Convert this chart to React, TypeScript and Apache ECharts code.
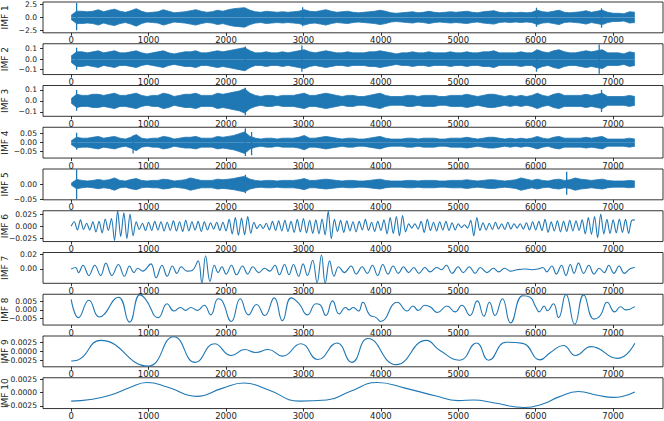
import React, { useEffect, useRef } from "react";
import * as echarts from "echarts";

// ---------- data ----------
// IMF 1-5: high-frequency bands, envelope amplitude read every STEP samples
const STEP = 70;
const imf1Amp = [
  0.4, 1.2, 1.2, 1.1, 1.2, 1.5, 1.1, 1.4, 1.6, 1.2, 1.0, 1.3, 1.7, 1.2, 0.9,
  1.0, 1.1, 1.5, 1.2, 0.9, 1.0, 1.1, 1.3, 1.5, 1.2, 1.0, 1.1, 1.4, 1.2, 1.5,
  1.7, 1.8, 1.9, 1.4, 1.1, 1.0, 1.2, 1.1, 1.0, 1.1, 1.0, 1.1, 1.2, 1.5, 1.2,
  1.1, 1.3, 1.5, 1.2, 1.0, 1.1, 1.2, 1.0, 0.9, 1.0, 1.1, 1.2, 1.4, 1.2, 0.9,
  0.8, 0.9, 1.0, 1.1, 0.9, 1.0, 1.2, 1.0, 0.9, 1.0, 1.1, 1.0, 1.1, 1.2, 1.0,
  0.9, 1.1, 1.2, 1.3, 1.0, 0.9, 1.0, 0.9, 1.0, 0.9, 1.0, 1.4, 1.1, 1.0, 1.2,
  1.4, 1.0, 0.9, 1.0, 1.1, 1.3, 1.0, 1.2, 1.4, 1.0, 0.8, 0.8, 0.7, 1.1, 1.0,
];
const imf1Spikes = [[70, 2.8, -2.5], [2990, 2.0, -1.7], [6010, 1.9, -1.8], [6850, 1.8, -2.0]];

const imf2Amp = [
  0.03, 0.07, 0.07, 0.06, 0.07, 0.08, 0.06, 0.07, 0.08, 0.06, 0.06, 0.07, 0.08, 0.06, 0.05,
  0.06, 0.07, 0.08, 0.06, 0.05, 0.06, 0.07, 0.07, 0.08, 0.06, 0.06, 0.07, 0.08, 0.07, 0.08,
  0.09, 0.10, 0.11, 0.08, 0.06, 0.06, 0.07, 0.06, 0.06, 0.07, 0.06, 0.07, 0.08, 0.09, 0.07,
  0.06, 0.07, 0.08, 0.07, 0.06, 0.06, 0.07, 0.06, 0.06, 0.06, 0.07, 0.07, 0.08, 0.07, 0.06,
  0.05, 0.06, 0.06, 0.07, 0.06, 0.06, 0.07, 0.06, 0.06, 0.06, 0.07, 0.06, 0.06, 0.07, 0.06,
  0.06, 0.07, 0.07, 0.08, 0.06, 0.06, 0.06, 0.06, 0.07, 0.06, 0.06, 0.09, 0.07, 0.06, 0.08,
  0.09, 0.07, 0.06, 0.06, 0.07, 0.08, 0.07, 0.08, 0.09, 0.06, 0.06, 0.06, 0.05, 0.07, 0.06,
];
const imf2Spikes = [[70, 0.11, -0.10], [2250, 0.12, -0.11], [2980, 0.13, -0.12], [6010, 0.09, -0.12], [6820, 0.14, -0.14]];

const imf3Amp = [
  0.02, 0.06, 0.05, 0.05, 0.06, 0.06, 0.05, 0.06, 0.07, 0.05, 0.05, 0.06, 0.07, 0.05, 0.04,
  0.05, 0.05, 0.07, 0.06, 0.04, 0.05, 0.06, 0.06, 0.07, 0.05, 0.05, 0.05, 0.07, 0.06, 0.07,
  0.08, 0.09, 0.11, 0.07, 0.05, 0.04, 0.05, 0.05, 0.04, 0.05, 0.05, 0.05, 0.06, 0.07, 0.05,
  0.05, 0.06, 0.07, 0.06, 0.05, 0.04, 0.05, 0.05, 0.04, 0.04, 0.05, 0.06, 0.07, 0.05, 0.04,
  0.04, 0.04, 0.05, 0.05, 0.04, 0.05, 0.05, 0.05, 0.04, 0.04, 0.05, 0.05, 0.05, 0.06, 0.05,
  0.04, 0.05, 0.06, 0.06, 0.05, 0.04, 0.05, 0.04, 0.05, 0.04, 0.05, 0.07, 0.05, 0.04, 0.06,
  0.07, 0.05, 0.05, 0.05, 0.05, 0.06, 0.05, 0.06, 0.07, 0.04, 0.04, 0.04, 0.04, 0.05, 0.04,
];
const imf3Spikes = [[70, 0.10, -0.09], [2250, 0.12, -0.13], [6850, 0.10, -0.10]];

const imf4Amp = [
  0.01, 0.03, 0.025, 0.025, 0.03, 0.035, 0.025, 0.03, 0.035, 0.025, 0.02, 0.03, 0.045, 0.025, 0.02,
  0.025, 0.025, 0.035, 0.03, 0.02, 0.025, 0.03, 0.03, 0.035, 0.025, 0.025, 0.025, 0.035, 0.03, 0.035,
  0.04, 0.05, 0.06, 0.035, 0.025, 0.02, 0.025, 0.025, 0.02, 0.025, 0.025, 0.025, 0.03, 0.04, 0.025,
  0.025, 0.03, 0.035, 0.03, 0.025, 0.02, 0.025, 0.025, 0.02, 0.02, 0.025, 0.03, 0.035, 0.025, 0.02,
  0.02, 0.02, 0.025, 0.025, 0.02, 0.025, 0.025, 0.025, 0.02, 0.02, 0.025, 0.025, 0.025, 0.03, 0.025,
  0.02, 0.025, 0.03, 0.03, 0.025, 0.02, 0.025, 0.02, 0.025, 0.02, 0.025, 0.035, 0.025, 0.02, 0.03,
  0.035, 0.025, 0.025, 0.025, 0.025, 0.03, 0.025, 0.03, 0.035, 0.02, 0.02, 0.02, 0.02, 0.025, 0.02,
];
const imf4Spikes = [[70, 0.055, -0.04], [800, 0.04, -0.06], [2250, 0.08, -0.075], [2330, 0.06, -0.07]];

const imf5Amp = [
  0.003, 0.015, 0.012, 0.01, 0.012, 0.015, 0.012, 0.014, 0.02, 0.012, 0.01, 0.015, 0.018, 0.012, 0.01,
  0.012, 0.012, 0.016, 0.014, 0.01, 0.012, 0.014, 0.02, 0.016, 0.012, 0.012, 0.012, 0.016, 0.014, 0.016,
  0.018, 0.022, 0.025, 0.016, 0.012, 0.01, 0.012, 0.012, 0.01, 0.012, 0.012, 0.012, 0.014, 0.018, 0.012,
  0.012, 0.014, 0.016, 0.014, 0.012, 0.01, 0.012, 0.012, 0.01, 0.01, 0.012, 0.014, 0.016, 0.012, 0.01,
  0.01, 0.01, 0.012, 0.012, 0.01, 0.012, 0.012, 0.012, 0.01, 0.01, 0.012, 0.012, 0.012, 0.014, 0.012,
  0.01, 0.012, 0.014, 0.014, 0.012, 0.01, 0.012, 0.014, 0.02, 0.016, 0.012, 0.016, 0.012, 0.01, 0.014,
  0.016, 0.012, 0.014, 0.02, 0.016, 0.014, 0.012, 0.014, 0.016, 0.012, 0.01, 0.01, 0.01, 0.012, 0.01,
];
const imf5Spikes = [[70, 0.047, -0.048], [2250, 0.03, -0.03], [6400, 0.04, -0.035]];

// IMF 6: extrema every 40 samples (units of 1e-3)
const IMF6_STEP = 40;
const imf6 = [
  0, 9, -8, 13, -7, 6, -8, 9, -12, 10, -14, 15, -9, 16, -30, 32, -22, 28, -26, 25,
  -20, 9, -7, 6, -9, 8, -9, 10, -8, 9, -10, 8, -9, 11, -10, 9, -11, 12, -10, 9,
  -8, 10, -11, 9, -8, 7, -6, 8, -9, 8, -10, 14, -16, 18, -19, 17, -18, 20, -15, 8,
  -5, 4, -5, 6, -8, 10, -9, 11, -10, 12, -11, 10, -13, 14, -12, 16, -14, 12, -15, 13,
  -16, 15, -18, 31, -26, 14, -11, 12, -13, 11, -10, 9, -12, 10, -8, 14, -9, 8, -11, 10,
  -9, 13, -16, 18, -15, 20, -20, 22, -12, 5, -4, 5, -6, 10, -13, 14, -9, 8, -10, 9,
  -8, 10, -9, 7, -8, 5, -3, 3, -4, 12, -20, 18, -9, 7, -8, 6, -7, 8, -6, 5,
  -7, 8, -6, 5, -4, 5, -6, 7, -8, 9, -8, 10, -9, 14, -13, 9, -10, 11, -12, 10,
  -11, 12, -10, 11, -9, 13, -16, 18, -17, 20, -24, 25, -16, 14, -15, 13, -14, 15, -13, 14,
  -15, 12, 13,
];

// IMF 7-10: [sample, value in 1e-3] at extrema / turning points
const imf7 = [
  [0, 0], [57, 2], [95, -5], [153, 5], [229, -9], [305, 5], [381, -9], [448, 8], [525, -9], [610, 6],
  [687, -10], [753, 4], [811, -5], [858, 1], [925, -3], [1030, 7], [1097, -12], [1173, 5], [1240, -10], [1307, 4],
  [1364, -6], [1421, 3], [1497, -3], [1564, -2], [1640, 11], [1688, -19.5], [1736, 18], [1793, -17], [1850, 5], [1898, -5],
  [1946, 3], [2003, -7], [2070, 5], [2136, -8], [2213, 4], [2279, -7], [2346, 3], [2422, -5], [2499, 1], [2566, -3],
  [2632, 5], [2690, -8], [2756, 6], [2814, -8], [2871, 6], [2938, -10], [2995, 7], [3052, -9], [3119, 12], [3176, -19],
  [3233, 19], [3281, -19.5], [3338, 11], [3395, -10], [3453, 3], [3529, -5], [3615, 4], [3681, -7], [3758, 3], [3825, -6],
  [3891, 5], [3958, -9], [4025, 6], [4092, -7], [4158, 4], [4225, -6], [4292, 3], [4359, -5], [4425, 2], [4492, -6],
  [4568, 2], [4635, -4], [4721, 2], [4785, -1], [4845, 5], [4921, -6], [4998, 3], [5064, -5], [5141, 3], [5217, -6],
  [5284, 2], [5370, -5], [5455, 1], [5522, -4], [5598, 1], [5675, -3], [5760, -1], [5855, 0], [5950, -1], [6030, 0],
  [6094, 2], [6142, -4], [6209, 4], [6266, -7], [6333, 5], [6390, -9], [6447, 6], [6495, -6], [6552, 8], [6619, -6],
  [6686, 5], [6752, -7], [6819, 1], [6886, -5], [6943, 5], [7010, -6], [7077, 4], [7144, -6], [7215, 0], [7280, 2],
];
const imf8 = [
  [0, 6.4], [95, -4.7], [229, 5.9], [362, -4.3], [610, 7.7], [753, -7.4], [887, 9.1], [960, 6.5], [1125, -4.7], [1240, 3.7],
  [1326, -0.7], [1412, 1.5], [1478, -0.3], [1545, 1.5], [1631, -0.3], [1717, 2.8], [1803, -3.0], [1898, 6.8], [1950, 5.5], [2070, -7.0],
  [2184, 6.8], [2289, -3.0], [2394, 3.3], [2499, -3.4], [2623, 7.3], [2728, -6.5], [2842, 7.3], [2940, 4.0], [3052, -3.0], [3162, 3.7],
  [3210, 3.3], [3290, -3.4], [3376, 5.5], [3462, -2.5], [3543, 1.5], [3591, 0], [3643, 1.5], [3710, -0.7], [3767, 4.6], [3853, -3.0],
  [3939, -4.7], [3996, -7.0], [4211, 4.6], [4340, -0.7], [4414, 2.4], [4482, -0.3], [4568, 2.8], [4640, 1.8], [4731, -1.6], [4854, 2.4],
  [4959, -1.2], [5045, 2.8], [5150, -3.4], [5245, 5.5], [5331, -3.8], [5403, 4.6], [5474, -3.4], [5570, 6.8], [5675, -7.9], [5832, 8.6],
  [5928, 7.7], [5999, 1.9], [6047, -1.2], [6109, 2.4], [6151, -0.5], [6228, 3.7], [6295, -4.7], [6390, 9.4], [6504, -8.8], [6619, 9.1],
  [6752, -5.6], [6834, -3.4], [6924, 4.6], [7020, -1.2], [7096, 1.9], [7163, 0], [7280, 2.0],
];
const imf9 = [
  [0, -2.6], [80, -2.4], [381, 3.0], [992, -4.0], [1326, 4.0], [1602, -3.0], [1850, 2.1], [2070, -1.1], [2241, 0.5], [2384, -0.3],
  [2546, 0.5], [2728, -1.3], [2966, 2.1], [3186, -2.2], [3433, 2.3], [3624, -3.0], [3834, 3.5], [4197, -3.6], [4587, 3.0], [4759, 0.3],
  [5017, -2.4], [5236, 2.3], [5393, -2.4], [5618, 2.5], [5832, 2.2], [6056, -2.3], [6190, -0.3], [6357, 1.6], [6514, -1.1], [6714, 1.3],
  [7058, -1.9], [7280, 2.2],
];
const imf10 = [
  [0, -1.6], [250, -1.3], [500, -0.5], [750, 0.9], [980, 1.9], [1250, 1.0], [1620, -0.7], [1950, 0.8], [2230, 1.8], [2550, 0.5],
  [2950, -1.6], [3300, -1.4], [3600, 0.2], [3950, 1.9], [4300, 0.9], [4700, -0.6], [5000, -1.5], [5200, -1.4], [5450, -1.9], [5850, -2.8],
  [6100, -2.1], [6300, -0.8], [6550, 0.2], [6800, -0.5], [7000, -0.9], [7150, -0.6], [7280, 0.1],
];

const xTicks = [0, 1000, 2000, 3000, 4000, 5000, 6000, 7000];
const panelNames = ["IMF 1", "IMF 2", "IMF 3", "IMF 4", "IMF 5", "IMF 6", "IMF 7", "IMF 8", "IMF 9", "IMF 10"];
const yTicks = [
  [-2.5, 0, 2.5],
  [-0.1, 0, 0.1],
  [-0.1, 0, 0.1],
  [-0.05, 0, 0.05],
  [-0.05, 0],
  [-0.025, 0, 0.025],
  [0, 0.02],
  [-0.005, 0, 0.005],
  [-0.0025, 0, 0.0025],
  [-0.0025, 0, 0.0025],
];
const yDecimals = [1, 1, 1, 2, 2, 3, 2, 3, 4, 4];
const yLimits = [
  [-3.0, 3.0],
  [-0.147, 0.147],
  [-0.14, 0.14],
  [-0.086, 0.086],
  [-0.051, 0.049],
  [-0.032, 0.032],
  [-0.0196, 0.0225],
  [-0.0092, 0.0095],
  [-0.0042, 0.0042],
  [-0.003, 0.0028],
];

// ---------- chart ----------
const BLUE = "#1f77b4";
const FONT = "DejaVu Sans";
const MILLI = 1e-3;

function bandSeries(idx: number, amp: number[], spikes: number[][]) {
  const common = {
    type: "line",
    xAxisIndex: idx,
    yAxisIndex: idx,
    symbol: "none",
    silent: true,
    lineStyle: { color: BLUE, width: 0.8 },
    areaStyle: { color: BLUE, opacity: 1 },
  };
  const out: any[] = [
    { ...common, data: amp.map((a, i) => [i * STEP, a]) },
    { ...common, data: amp.map((a, i) => [i * STEP, -a]) },
  ];
  spikes.forEach(([x, hi, lo]) => {
    out.push({
      type: "line",
      xAxisIndex: idx,
      yAxisIndex: idx,
      symbol: "none",
      silent: true,
      lineStyle: { color: BLUE, width: 1.3 },
      data: [[x, hi], [x, lo]],
    });
  });
  return out;
}

function lineSeries(idx: number, data: number[][], smooth: number) {
  return {
    type: "line",
    xAxisIndex: idx,
    yAxisIndex: idx,
    symbol: "none",
    silent: true,
    smooth,
    lineStyle: { color: BLUE, width: 1.1 },
    data,
  };
}

function buildOption() {
  const grids: any[] = [];
  const xAxes: any[] = [];
  const yAxes: any[] = [];
  for (let i = 0; i < 10; i++) {
    grids.push({
      left: 43,
      width: 620,
      top: 2 + i * 41.75,
      height: 30.8,
      show: true,
      containLabel: false,
      outerBoundsMode: "none",
      borderColor: "#000",
      borderWidth: 0.8,
      backgroundColor: "transparent",
    });
    xAxes.push({
      type: "value",
      gridIndex: i,
      min: -364,
      max: 7644,
      position: "bottom",
      axisLine: { show: false, onZero: false },
      splitLine: { show: false },
      axisTick: { show: true, length: 3, customValues: xTicks, lineStyle: { color: "#000", width: 0.8 } },
      axisLabel: {
        customValues: xTicks,
        fontSize: 8.5,
        fontFamily: FONT,
        color: "#222",
        margin: 3,
        formatter: (v: number) => String(v),
      },
    });
    const dec = yDecimals[i];
    yAxes.push({
      type: "value",
      gridIndex: i,
      min: yLimits[i][0],
      max: yLimits[i][1],
      position: "left",
      name: panelNames[i],
      nameLocation: "middle",
      nameGap: 34,
      nameMoveOverlap: false,
      nameTextStyle: { fontSize: 9, fontFamily: FONT, color: "#222" },
      axisLine: { show: false, onZero: false },
      splitLine: { show: false },
      axisTick: { show: true, length: 3, customValues: yTicks[i], lineStyle: { color: "#000", width: 0.8 } },
      axisLabel: {
        customValues: yTicks[i],
        fontSize: 7.6,
        fontFamily: FONT,
        color: "#222",
        margin: 6,
        hideOverlap: false,
        formatter: (v: number) => v.toFixed(dec).replace("-", "\u2212"),
      },
    });
  }

  const series: any[] = [
    ...bandSeries(0, imf1Amp, imf1Spikes),
    ...bandSeries(1, imf2Amp, imf2Spikes),
    ...bandSeries(2, imf3Amp, imf3Spikes),
    ...bandSeries(3, imf4Amp, imf4Spikes),
    ...bandSeries(4, imf5Amp, imf5Spikes),
    lineSeries(5, imf6.map((v, i) => [i * IMF6_STEP, v * MILLI]), 0.3),
    lineSeries(6, imf7.map(([x, v]) => [x, v * MILLI]), 0.4),
    lineSeries(7, imf8.map(([x, v]) => [x, v * MILLI]), 0.5),
    lineSeries(8, imf9.map(([x, v]) => [x, v * MILLI]), 0.5),
    lineSeries(9, imf10.map(([x, v]) => [x, v * MILLI]), 0.5),
  ];

  return {
    animation: false,
    backgroundColor: "#fff",
    grid: grids,
    xAxis: xAxes,
    yAxis: yAxes,
    series,
  };
}

export default function App() {
  const ref = useRef<HTMLDivElement>(null);
  useEffect(() => {
    document.body.style.margin = "0";
    if (!ref.current) return;
    const chart = echarts.init(ref.current, null, { renderer: "svg" });
    chart.setOption(buildOption() as any);
    return () => chart.dispose();
  }, []);
  return <div ref={ref} style={{ position: "fixed", left: 0, top: 0, width: 664, height: 421 }} />;
}
